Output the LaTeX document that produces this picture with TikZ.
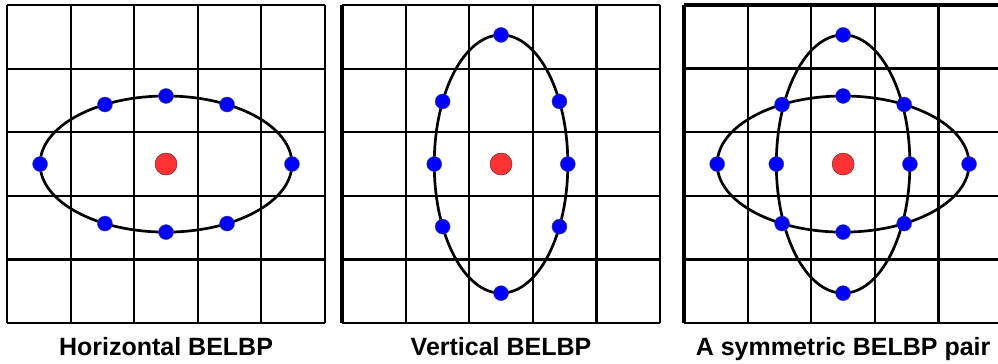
\documentclass[tikz,border=0pt]{standalone}
\usepackage{fontspec}
\setsansfont{Liberation Sans}
\usetikzlibrary{positioning}

\definecolor{pointBlue}{RGB}{0, 0, 255}
\definecolor{pointBlueBorder}{RGB}{70, 70, 110}
\definecolor{centerRed}{RGB}{255, 51, 51}
\definecolor{centerRedBorder}{RGB}{110, 40, 40}

\begin{document}
\begin{tikzpicture}[
    x=63.6pt, y=63.6pt,
    font=\sffamily,
    gridline/.style={draw=black, line width=2.1pt},
    thickline/.style={draw=black, line width=3.4pt},
    curve/.style={draw=black, line width=2.7pt},
    bluedot/.style={circle, fill=pointBlue, draw=pointBlueBorder, line width=0.4pt, minimum size=15pt, inner sep=0pt},
    reddot/.style={circle, fill=centerRed, draw=centerRedBorder, line width=0.5pt, minimum size=22pt, inner sep=0pt},
    caption/.style={anchor=base, font=\sffamily\bfseries\fontsize{25}{30}\selectfont}
]

    \useasboundingbox (-0.11,-0.629) rectangle (15.58,5.079);
    \clip (-0.11,-0.629) rectangle (15.58,5.079);

    % the three 5x5 grids
    \foreach \ox in {0, 5.267, 10.645} {
        \begin{scope}[xshift=\ox*63.6pt]
            \foreach \i in {0,...,5} {
                \draw[gridline] (\i,0) -- (\i,5);
                \draw[gridline] (0,\i) -- (5,\i);
            }
        \end{scope}
    }
    \draw[thickline] (5.267,0) -- (5.267,5);
    \draw[thickline] (10.645,0) -- (10.645,5) (10.645,5) -- (15.8,5);
    \draw[thickline] (10.645,4) -- (15.8,4);
    \draw[thickline] (10.645,1) -- (15.8,1);


    % horizontal BELBP
    \begin{scope}[shift={(2.5,2.5)}]
        \draw[curve] (0,0) ellipse [x radius=1.98, y radius=1.07];
        \foreach \a in {0,61,90,119,180,241,270,299}
            \node[bluedot] (hor-\a) at (\a:1.98 and 1.07) {};
        \node[reddot] (hor-c) at (0,0) {};
    \end{scope}
    \node[caption] (capHor) at (2.5,-0.514) {Horizontal BELBP};


    % vertical BELBP
    \begin{scope}[shift={(7.767,2.5)}]
        \draw[curve] (0,0) ellipse [x radius=1.05, y radius=2.03];
        \foreach \a in {0,29,90,151,180,209,270,331}
            \node[bluedot] (ver-\a) at (\a:1.05 and 2.03) {};
        \node[reddot] (ver-c) at (0,0) {};
    \end{scope}
    \node[caption] (capVer) at (7.767,-0.514) {Vertical BELBP};


    % symmetric pair
    \begin{scope}[shift={(13.145,2.5)}]
        \draw[curve] (0,0) ellipse [x radius=1.98, y radius=1.07];
        \draw[curve] (0,0) ellipse [x radius=1.05, y radius=2.03];
        \foreach \a in {0,61,90,119,180,241,270,299}
            \node[bluedot] (symH-\a) at (\a:1.98 and 1.07) {};
        \foreach \a in {0,90,180,270}
            \node[bluedot] (symV-\a) at (\a:1.05 and 2.03) {};
        \node[reddot] (sym-c) at (0,0) {};
    \end{scope}
    \node[caption] (capSym) at (13.145,-0.514) {A symmetric BELBP pair};

\end{tikzpicture}
\end{document}
